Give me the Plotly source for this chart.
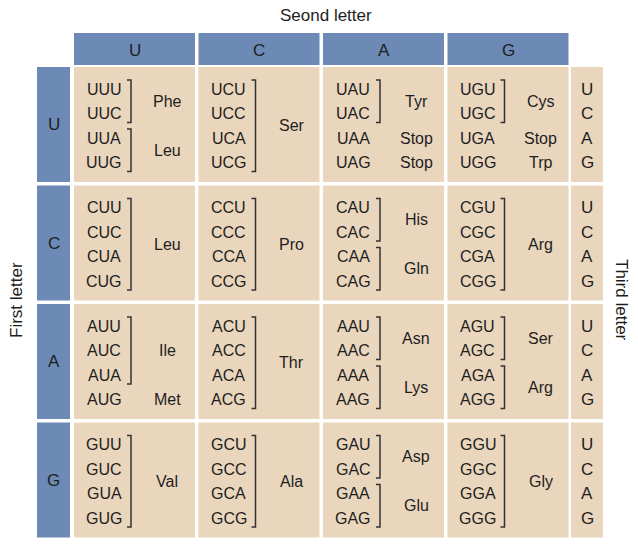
import plotly.graph_objects as go

bases = ["U", "C", "A", "G"]
# amino acid groups per (first, second): (start, end, name, bracket)
groups = {
    ("U", "U"): [(0, 1, "Phe", True), (2, 3, "Leu", True)],
    ("U", "C"): [(0, 3, "Ser", True)],
    ("U", "A"): [(0, 1, "Tyr", True), (2, 2, "Stop", False), (3, 3, "Stop", False)],
    ("U", "G"): [(0, 1, "Cys", True), (2, 2, "Stop", False), (3, 3, "Trp", False)],
    ("C", "U"): [(0, 3, "Leu", True)],
    ("C", "C"): [(0, 3, "Pro", True)],
    ("C", "A"): [(0, 1, "His", True), (2, 3, "Gln", True)],
    ("C", "G"): [(0, 3, "Arg", True)],
    ("A", "U"): [(0, 2, "Ile", True), (3, 3, "Met", False)],
    ("A", "C"): [(0, 3, "Thr", True)],
    ("A", "A"): [(0, 1, "Asn", True), (2, 3, "Lys", True)],
    ("A", "G"): [(0, 1, "Ser", True), (2, 3, "Arg", True)],
    ("G", "U"): [(0, 3, "Val", True)],
    ("G", "C"): [(0, 3, "Ala", True)],
    ("G", "A"): [(0, 1, "Asp", True), (2, 3, "Glu", True)],
    ("G", "G"): [(0, 3, "Gly", True)],
}

BLUE = "#6c8ab5"
BEIGE = "#e9d6bd"
TXT = "#1e1e1e"
FONT = "Liberation Sans"

def col_x(i):
    return 74 + i * 124.5

def row_y(j):
    return 67 + j * 118.5

CW, RH = 121, 115

fig = go.Figure()
shapes, ann = [], []

def rect(x0, y0, x1, y1, c):
    shapes.append(dict(type="rect", x0=x0, y0=y0, x1=x1, y1=y1, fillcolor=c,
                       line=dict(width=0), layer="below"))

def txt(x, y, s, size=16, angle=0):
    ann.append(dict(x=x, y=y, text=s, showarrow=False, textangle=angle,
                    font=dict(family=FONT, size=size, color=TXT)))

for i, b in enumerate(bases):
    rect(col_x(i), 33, col_x(i) + CW, 65, BLUE)
    txt(col_x(i) + CW / 2, 50, b, 17)
    rect(37, row_y(i), 70, row_y(i) + RH, BLUE)
    txt(53.5, row_y(i) + RH / 2, b, 17)
    rect(571, row_y(i), 603, row_y(i) + RH, BEIGE)
    for k, t in enumerate(bases):
        txt(587, row_y(i) + 22 + k * 24.5, t, 17)

line_dy = [22, 46.5, 71, 95.5]
for j, f in enumerate(bases):
    for i, s in enumerate(bases):
        x0, y0 = col_x(i), row_y(j)
        rect(x0, y0, x0 + CW, y0 + RH, BEIGE)
        for k, t in enumerate(bases):
            txt(x0 + 30, y0 + line_dy[k], f + s + t)
        for a, e, name, br in groups[(f, s)]:
            ya, ye = y0 + line_dy[a], y0 + line_dy[e]
            if br:
                bx = x0 + 57
                shapes.append(dict(type="path",
                                   path=f"M {bx-4},{ya-9} L {bx},{ya-9} L {bx},{ye+9} L {bx-4},{ye+9}",
                                   line=dict(color="#333333", width=1.5)))
            txt(x0 + 93, (ya + ye) / 2, name)

txt(326, 15, "Seond letter", 17)
txt(16, 300, "First letter", 17, -90)
txt(622, 300, "Third letter", 17, 90)

# browser body has an 8px margin, so offset the ranges to keep reference pixel coordinates
fig.update_layout(
    width=638, height=546, margin=dict(l=0, r=0, t=0, b=0),
    plot_bgcolor="white", paper_bgcolor="white",
    xaxis=dict(range=[8, 646], visible=False, fixedrange=True),
    yaxis=dict(range=[554, 8], visible=False, fixedrange=True),
    shapes=shapes, annotations=ann, showlegend=False,
)
fig.write_html("out.html")
